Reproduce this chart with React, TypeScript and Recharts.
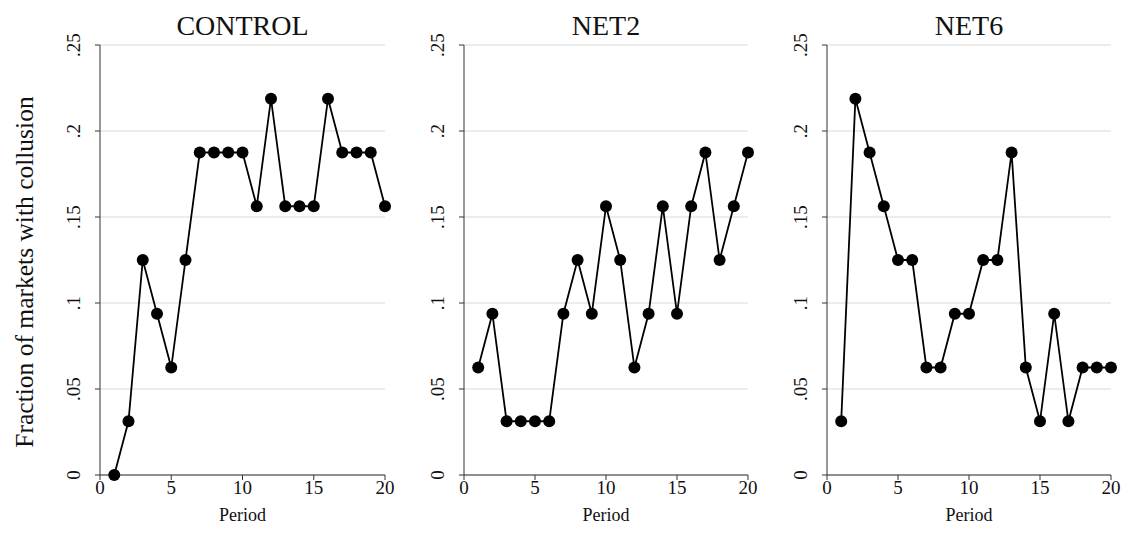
import { LineChart, Line, XAxis, YAxis, CartesianGrid } from "recharts";

const periods = Array.from({ length: 20 }, (_, i) => i + 1);

const controlValues = [
  0, 0.03125, 0.125, 0.09375, 0.0625, 0.125, 0.1875, 0.1875, 0.1875, 0.1875,
  0.15625, 0.21875, 0.15625, 0.15625, 0.15625, 0.21875, 0.1875, 0.1875, 0.1875, 0.15625,
];
const net2Values = [
  0.0625, 0.09375, 0.03125, 0.03125, 0.03125, 0.03125, 0.09375, 0.125, 0.09375, 0.15625,
  0.125, 0.0625, 0.09375, 0.15625, 0.09375, 0.15625, 0.1875, 0.125, 0.15625, 0.1875,
];
const net6Values = [
  0.03125, 0.21875, 0.1875, 0.15625, 0.125, 0.125, 0.0625, 0.0625, 0.09375, 0.09375,
  0.125, 0.125, 0.1875, 0.0625, 0.03125, 0.09375, 0.03125, 0.0625, 0.0625, 0.0625,
];

const xTicks = [0, 5, 10, 15, 20];
const yTicks = [0, 0.05, 0.1, 0.15, 0.2, 0.25];

const FONT = "'Liberation Serif', 'Times New Roman', serif";
const AXIS = "#333";
const txt = (size: number) => ({ fontFamily: FONT, fontSize: size, fill: "#111" });

const fmtY = (v: number) => (v === 0 ? "0" : String(v).replace(/^0/, ""));

const YTick = ({ x, y, payload }: any) => (
  <text x={x} y={y} transform={`rotate(-90 ${x} ${y})`} textAnchor="middle" style={txt(19)}>
    {fmtY(payload.value)}
  </text>
);

const XTick = ({ x, y, payload }: any) => (
  <text x={x} y={y + 14} textAnchor="middle" style={txt(19)}>
    {payload.value}
  </text>
);

const panels = [
  { title: "CONTROL", values: controlValues, plotLeft: 100, plotRight: 385 },
  { title: "NET2", values: net2Values, plotLeft: 464, plotRight: 748 },
  { title: "NET6", values: net6Values, plotLeft: 827, plotRight: 1111 },
];

const Panel = ({ values, plotLeft, plotRight }: { values: number[]; plotLeft: number; plotRight: number }) => {
  const left = plotLeft - 100;
  const width = plotRight - left + 10;
  const data = periods.map((p, i) => ({ period: p, value: values[i] }));
  return (
    <div style={{ position: "absolute", left, top: 0 }}>
      <LineChart width={width} height={544} data={data} margin={{ top: 45, right: 10, bottom: 0, left: 60 }}>
        <CartesianGrid horizontal vertical={false} stroke="#e6e6e6" strokeWidth={1.5} />
        <XAxis
          dataKey="period"
          type="number"
          domain={[0, 20]}
          ticks={xTicks}
          height={69}
          tickSize={5}
          tickMargin={0}
          stroke={AXIS}
          tick={<XTick />}
          label={{
            content: ({ viewBox }: any) => (
              <text x={viewBox.x + viewBox.width / 2} y={viewBox.y + 46} textAnchor="middle" style={txt(18)}>
                Period
              </text>
            ),
          }}
        />
        <YAxis
          type="number"
          domain={[0, 0.25]}
          ticks={yTicks}
          width={40}
          tickSize={5}
          tickMargin={15}
          stroke={AXIS}
          tick={<YTick />}
        />
        <Line
          type="linear"
          dataKey="value"
          stroke="#000"
          strokeWidth={1.8}
          dot={{ r: 6, fill: "#000", stroke: "none" }}
          isAnimationActive={false}
        />
      </LineChart>
    </div>
  );
};

export default function App() {
  return (
    <div style={{ position: "absolute", left: 0, top: 0, width: 1122, height: 544, background: "#fff" }}>
      {panels.map((p) => (
        <Panel key={p.title} values={p.values} plotLeft={p.plotLeft} plotRight={p.plotRight} />
      ))}
      <svg width={1122} height={544} style={{ position: "absolute", left: 0, top: 0, pointerEvents: "none" }}>
        {panels.map((p) => (
          <text key={p.title} x={(p.plotLeft + p.plotRight) / 2} y={35} textAnchor="middle" style={txt(28)}>
            {p.title}
          </text>
        ))}
        <text x={33} y={272} transform="rotate(-90 33 272)" textAnchor="middle" style={txt(25.5)}>
          Fraction of markets with collusion
        </text>
      </svg>
    </div>
  );
}
